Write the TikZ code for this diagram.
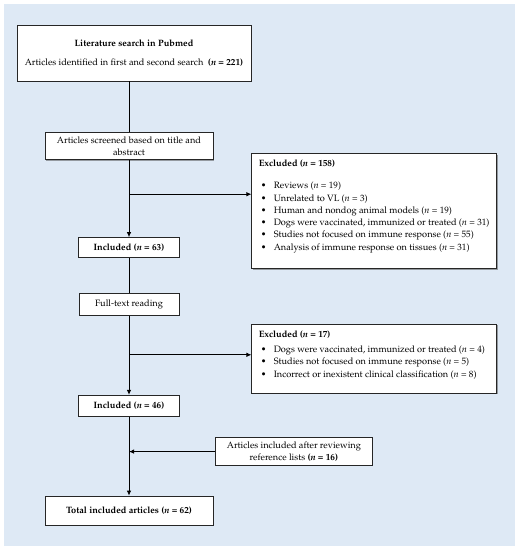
\documentclass[tikz,border=0pt]{standalone}
\usepackage[T1]{fontenc}
\usepackage{mathpazo}
\usetikzlibrary{arrows.meta, positioning, shadows}
\definecolor{panelblue}{RGB}{222,233,245}
\newcommand{\nn}{\textit{n}}
\newcommand{\bitem}[1]{\hspace*{4pt}\makebox[13pt][l]{\textbullet}\mbox{#1}\par}

\begin{document}
\begin{tikzpicture}[
    x=1pt, y=1pt,
    font=\fontsize{9.2}{12.3}\selectfont,
    box/.style={rectangle, draw=black!85, line width=0.8pt, fill=white, inner sep=0pt, align=center,
        drop shadow={shadow xshift=0.7pt, shadow yshift=-0.7pt, opacity=0.5, fill=black!70}},
    listbox/.style={box, align=left, inner xsep=5pt, inner ysep=6pt},
    arrow/.style={-{Latex[length=5pt,width=4.5pt]}, line width=0.8pt},
    link/.style={line width=0.8pt}
]
\useasboundingbox (0,0) rectangle (520,-550);

% Background panel
\fill[panelblue] (4,-4) rectangle (515,-546);

% Main column
\node (search) [box, minimum width=234pt, minimum height=56pt] at (134,-53) {\textbf{Literature search in Pubmed} \\[7pt] Articles identified in first and second search\ \ \textbf{(\nn{} = 221)}};
\node (screened) [box, minimum width=168pt, minimum height=27pt, below=51pt of search, xshift=-5pt] {Articles screened based on title and \\ abstract};
\node (inc63) [box, minimum width=101pt, minimum height=20pt, below=77pt of screened] {\textbf{Included (\nn{} = 63)}};
\node (fulltext) [box, minimum width=100pt, minimum height=22pt, below=35pt of inc63] {Full-text reading};
\node (inc46) [box, minimum width=101pt, minimum height=21pt, below=79pt of fulltext] {\textbf{Included (\nn{} = 46)}};
\node (total) [box, minimum width=168pt, minimum height=29pt, below=79pt of inc46] {\textbf{Total included articles (\nn{} = 62)}};

% Branch points
\coordinate [below=34pt of screened.south] (b1);
\coordinate [below=39pt of fulltext.south] (b2);
\coordinate [below=35pt of inc46.south] (b3);

% Side boxes
\node (excl1) [listbox, below=72pt of search.south east, anchor=north west] {\parbox[t][103pt][t]{235pt}{\raggedright
    \hspace*{2pt}\textbf{Excluded (\nn{} = 158)}\par\vspace{10pt}
    \bitem{Reviews (\nn{} = 19)}
    \bitem{Unrelated to VL (\nn{} = 3)}
    \bitem{Human and nondog animal models (\nn{} = 19)}
    \bitem{Dogs were vaccinated, immunized or treated (\nn{} = 31)}
    \bitem{Studies not focused on immune response (\nn{} = 55)}
    \bitem{Analysis of immune response on tissues (\nn{} = 31)}}};
\node (excl2) [listbox, below=55pt of excl1.south west, anchor=north west] {\parbox[t][57pt][t]{235pt}{\raggedright
    \hspace*{2pt}\textbf{Excluded (\nn{} = 17)}\par\vspace{3pt}
    \bitem{Dogs were vaccinated, immunized or treated (\nn{} = 4)}
    \bitem{Studies not focused on immune response (\nn{} = 5)}
    \bitem{Incorrect or inexistent clinical classification (\nn{} = 8)}}};
\node (reviewed) [box, minimum width=157pt, minimum height=28pt, right=86pt of b3, anchor=west] {Articles included after reviewing \\ reference lists \textbf{(\nn{} = 16)}};

% Connectors
\draw [link] (search.south -| screened.north) -- (screened.north);
\draw [arrow] (screened) -- (inc63);
\draw [arrow] (b1) -- (b1 -| excl1.west);
\draw [link] (inc63) -- (fulltext);
\draw [arrow] (fulltext) -- (inc46);
\draw [arrow] (b2) -- (b2 -| excl2.west);
\draw [arrow] (inc46) -- (total);
\draw [arrow] (reviewed.west) -- (b3);

\end{tikzpicture}
\end{document}
